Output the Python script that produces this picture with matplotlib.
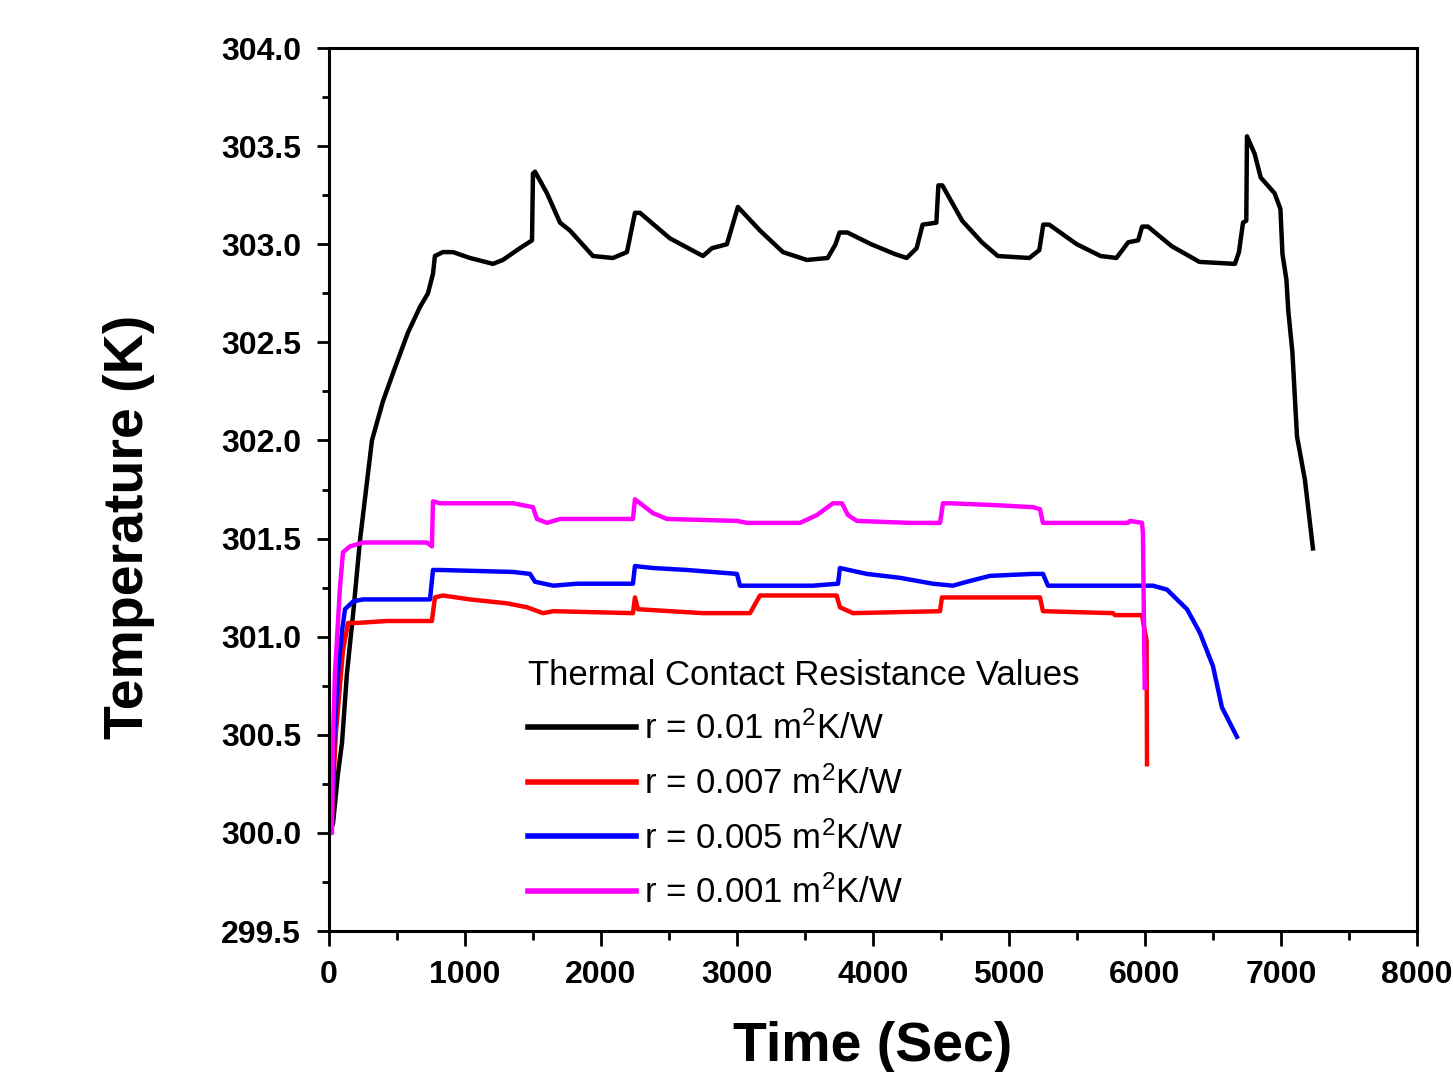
import matplotlib
matplotlib.use("Agg")
import matplotlib.pyplot as plt
from matplotlib.ticker import MultipleLocator, FormatStrFormatter

plt.rcParams['font.family'] = ['Liberation Sans', 'DejaVu Sans']
plt.rcParams['mathtext.fontset'] = 'custom'
plt.rcParams['mathtext.rm'] = 'Liberation Sans'
plt.rcParams['mathtext.it'] = 'Liberation Sans'
plt.rcParams['mathtext.default'] = 'regular'

# ---- data ----
black_t = [0, 15, 30, 66, 96, 132, 178, 228, 316, 397, 485, 581, 669, 728, 765, 779, 838, 912,
           1037, 1206, 1279, 1404, 1493, 1500, 1515, 1603, 1699, 1772, 1941, 2088, 2191, 2250,
           2287, 2507, 2750, 2816, 2926, 3007, 3169, 3338, 3514, 3667, 3725, 3754, 3812, 3987,
           4161, 4248, 4321, 4365, 4466, 4481, 4510, 4656, 4801, 4918, 5150, 5223, 5252, 5296,
           5499, 5674, 5790, 5877, 5950, 5979, 6022, 6197, 6401, 6662, 6691, 6721, 6745, 6750,
           6807, 6851, 6953, 6996, 7011, 7040, 7054, 7084, 7118, 7176, 7235]
black_T = [300.0, 300.02, 300.05, 300.30, 300.46, 300.81, 301.12, 301.49, 302.0, 302.20, 302.37,
           302.55, 302.68, 302.75, 302.85, 302.94, 302.96, 302.96, 302.93, 302.90, 302.92, 302.98,
           303.02, 303.36, 303.37, 303.26, 303.11, 303.07, 302.94, 302.93, 302.96, 303.16, 303.16,
           303.03, 302.94, 302.98, 303.0, 303.19, 303.07, 302.96, 302.92, 302.93, 303.0, 303.06,
           303.06, 303.0, 302.95, 302.93, 302.98, 303.10, 303.11, 303.30, 303.30, 303.12, 303.01,
           302.94, 302.93, 302.97, 303.10, 303.10, 303.0, 302.94, 302.93, 303.01, 303.02, 303.09,
           303.09, 302.99, 302.91, 302.90, 302.96, 303.11, 303.12, 303.55, 303.46, 303.34, 303.26,
           303.18, 302.95, 302.82, 302.66, 302.45, 302.02, 301.80, 301.45]

red_t = [0, 15, 50, 103, 140, 206, 426, 757, 779, 838, 1037, 1309, 1456, 1574, 1650, 2235, 2250,
         2272, 2750, 3096, 3169, 3610, 3733, 3757, 3853, 4493, 4507, 5228, 5250, 5765, 5779, 5978,
         6012, 6015]
red_T = [300.0, 300.0, 300.5, 300.93, 301.07, 301.07, 301.08, 301.08, 301.20, 301.21, 301.19,
         301.17, 301.15, 301.12, 301.13, 301.12, 301.20, 301.14, 301.12, 301.12, 301.21, 301.21,
         301.21, 301.15, 301.12, 301.13, 301.20, 301.20, 301.13, 301.12, 301.11, 301.11, 300.98,
         300.35]

blue_t = [0, 15, 40, 70, 96, 118, 178, 250, 743, 765, 816, 1353, 1478, 1515, 1650, 1823, 2235,
          2250, 2382, 2632, 3000, 3022, 3559, 3743, 3757, 3954, 4199, 4441, 4588, 4691, 4860,
          5176, 5250, 5287, 6059, 6162, 6309, 6404, 6500, 6566, 6676]
blue_T = [300.0, 300.0, 300.5, 300.85, 301.03, 301.14, 301.18, 301.19, 301.19, 301.34, 301.34,
          301.33, 301.32, 301.28, 301.26, 301.27, 301.27, 301.36, 301.35, 301.34, 301.32, 301.26,
          301.26, 301.27, 301.35, 301.32, 301.30, 301.27, 301.26, 301.28, 301.31, 301.32, 301.32,
          301.26, 301.26, 301.24, 301.14, 301.02, 300.85, 300.64, 300.49]

pink_t = [0, 22, 29, 44, 81, 103, 154, 250, 426, 720, 757, 765, 816, 1353, 1500, 1529, 1603,
          1699, 2235, 2250, 2382, 2485, 3000, 3074, 3463, 3588, 3706, 3772, 3816, 3882, 4272,
          4493, 4515, 4566, 4912, 5176, 5228, 5250, 5618, 5875, 5890, 5978, 5985, 5998]
pink_T = [300.0, 300.0, 300.47, 300.81, 301.25, 301.43, 301.46, 301.48, 301.48, 301.48, 301.46,
          301.69, 301.68, 301.68, 301.66, 301.60, 301.58, 301.60, 301.60, 301.70, 301.63, 301.60,
          301.59, 301.58, 301.58, 301.62, 301.68, 301.68, 301.62, 301.59, 301.58, 301.58, 301.68,
          301.68, 301.67, 301.66, 301.65, 301.58, 301.58, 301.58, 301.59, 301.58, 301.53, 300.74]

series_labels = ["r = 0.01 m$^2$K/W", "r = 0.007 m$^2$K/W",
                 "r = 0.005 m$^2$K/W", "r = 0.001 m$^2$K/W"]
legend_title = "Thermal Contact Resistance Values"
x_label = "Time (Sec)"
y_label = "Temperature (K)"

# ---- figure ----
fig = plt.figure(figsize=(14.53, 10.72), dpi=100)
ax = fig.add_axes([0.2264, 0.1315, 0.7488, 0.8237])

lw = 3.2
ax.plot(black_t, black_T, color='black', lw=lw, label=series_labels[0])
ax.plot(red_t, red_T, color='#ff0000', lw=lw, label=series_labels[1])
ax.plot(blue_t, blue_T, color='#0000ff', lw=lw, label=series_labels[2])
ax.plot(pink_t, pink_T, color='#ff00ff', lw=lw, label=series_labels[3])

ax.set_xlim(0, 8000)
ax.set_ylim(299.5, 304.0)
ax.xaxis.set_major_locator(MultipleLocator(1000))
ax.xaxis.set_minor_locator(MultipleLocator(500))
ax.yaxis.set_major_locator(MultipleLocator(0.5))
ax.yaxis.set_minor_locator(MultipleLocator(0.25))
ax.yaxis.set_major_formatter(FormatStrFormatter('%.1f'))

for s in ax.spines.values():
    s.set_linewidth(2.2)

ax.tick_params(axis='x', which='major', direction='out', length=11, width=2.0,
               labelsize=23, pad=10, top=False)
ax.tick_params(axis='x', which='minor', direction='out', length=6.5, width=2.0, top=False)
ax.tick_params(axis='y', which='major', direction='out', length=9, width=2.0,
               labelsize=23, pad=11, right=False)
ax.tick_params(axis='y', which='minor', direction='out', length=5, width=2.0, right=False)
for lab in ax.get_xticklabels() + ax.get_yticklabels():
    lab.set_fontweight('bold')

ax.set_xlabel(x_label, fontsize=40, fontweight='bold')
ax.set_ylabel(y_label, fontsize=40, fontweight='bold')
ax.xaxis.set_label_coords(0.5, -0.102)
ax.yaxis.set_label_coords(-0.160, 0.4575)

leg = ax.legend(loc='upper left', bbox_to_anchor=(0.1829, 0.3085), frameon=False,
                title=legend_title, title_fontsize=25, fontsize=25, alignment='left',
                handlelength=3.1, handletextpad=0.25, labelspacing=0.58,
                borderpad=0, borderaxespad=0)
for line in leg.get_lines():
    line.set_linewidth(4)

fig.savefig("out.png", dpi=100)
